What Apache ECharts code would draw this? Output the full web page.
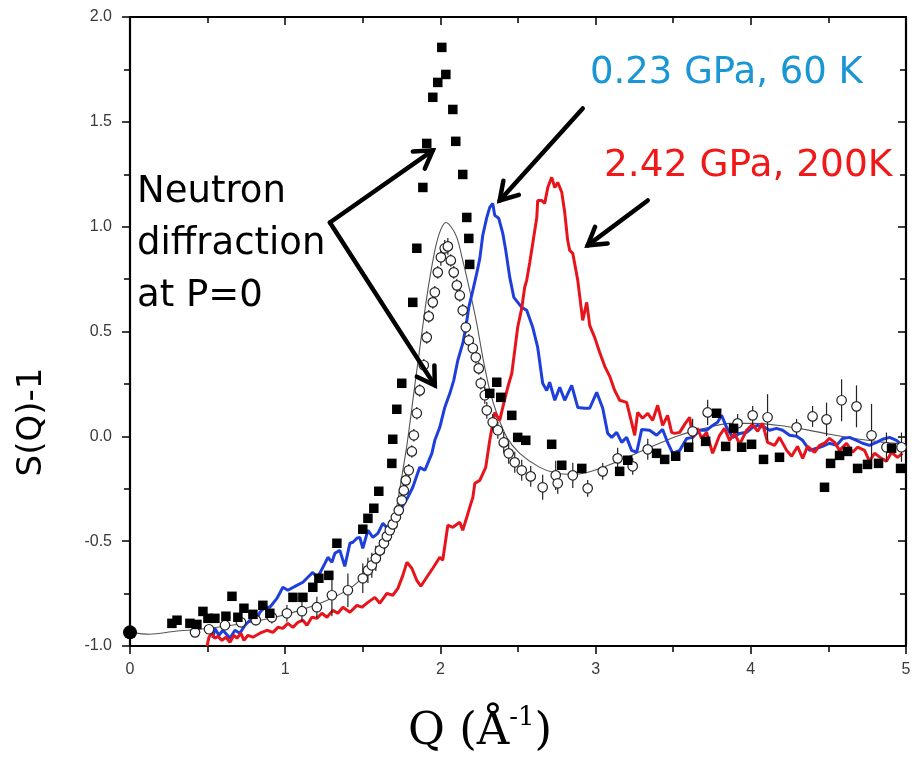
<!DOCTYPE html>
<html><head><meta charset="utf-8">
<script src="https://cdn.jsdelivr.net/npm/echarts@6.0.0/dist/echarts.min.js"></script>
<style>html,body{margin:0;padding:0;background:#fff}#c{width:924px;height:757px}</style>
</head><body><div id="c"></div>
<script>
// ---- data (Q in 1/Å, S(Q)-1) ----
const xRange = [0, 5];
const yRange = [-1, 2];
const yTickLabels = ['-1.0','-0.5','0.0','0.5','1.0','1.5','2.0'];

// filled squares (neutron diffraction, other data set)
const squares = [
[0.270,-0.892],[0.303,-0.877],[0.386,-0.892],[0.431,-0.897],[0.470,-0.835],[0.502,-0.868],[0.547,-0.868],
[0.618,-0.858],[0.657,-0.763],[0.695,-0.863],[0.734,-0.820],[0.792,-0.849],[0.856,-0.806],[0.901,-0.844],
[1.050,-0.768],[1.114,-0.768],[1.178,-0.720],[1.217,-0.677],[1.281,-0.663],[1.333,-0.510],[1.500,-0.443],
[1.533,-0.391],[1.571,-0.343],[1.603,-0.262],[1.687,-0.129],[1.693,-0.014],[1.719,0.129],[1.751,0.253],
[1.822,0.639],[1.848,0.897],[1.887,1.187],[1.912,1.397],[1.951,1.617],[1.983,1.688],[2.009,1.855],
[2.035,1.726],[2.080,1.559],[2.099,1.407],[2.144,1.249],[2.170,1.044],[2.183,0.944],[2.189,0.820],
[2.318,0.205],[2.363,0.258],[2.389,0.186],[2.460,0.100],[2.498,-0.005],[2.550,-0.019],[2.717,-0.038],
[2.782,-0.138],[2.911,-0.153],[3.155,-0.167],[3.207,-0.114],[3.393,-0.081],[3.445,-0.110],[3.516,-0.095],
[3.600,-0.052],[3.709,-0.024],[3.780,0.110],[3.838,-0.048],[3.889,0.038],[3.941,-0.052],[4.005,-0.038],
[4.082,-0.110],[4.185,-0.100],[4.475,-0.243],[4.514,-0.129],[4.572,-0.091],[4.623,-0.072],[4.688,-0.153],
[4.752,-0.134],[4.823,-0.129],[4.907,-0.057],[4.965,-0.153]
];

// open circles with error bars: [Q, S-1, error]
const circles = [
[0.419,-0.935,0.015],[0.509,-0.920,0.015],[0.612,-0.901,0.02],[0.715,-0.887,0.02],[0.811,-0.877,0.025],
[0.914,-0.863,0.03],[1.011,-0.844,0.04],[1.108,-0.834,0.05],[1.204,-0.815,0.05],[1.301,-0.758,0.10],
[1.404,-0.734,0.08],[1.500,-0.677,0.07],[1.533,-0.639,0.06],[1.558,-0.615,0.06],[1.584,-0.582,0.06],
[1.610,-0.544,0.05],[1.636,-0.510,0.05],[1.655,-0.477,0.05],[1.674,-0.448,0.05],[1.693,-0.420,0.05],
[1.713,-0.386,0.04],[1.732,-0.353,0.04],[1.751,-0.305,0.04],[1.764,-0.258,0.04],[1.777,-0.210,0.03],
[1.796,-0.162,0.03],[1.816,-0.072,0.03],[1.829,0.005,0.03],[1.848,0.110,0.03],[1.867,0.219,0.03],
[1.893,0.339,0.03],[1.912,0.472,0.03],[1.925,0.572,0.03],[1.951,0.639,0.03],[1.964,0.687,0.03],
[1.983,0.782,0.03],[2.003,0.854,0.04],[2.028,0.897,0.04],[2.048,0.906,0.04],[2.067,0.839,0.03],
[2.086,0.782,0.03],[2.106,0.720,0.03],[2.125,0.672,0.03],[2.144,0.601,0.03],[2.164,0.520,0.03],
[2.183,0.458,0.03],[2.209,0.420,0.03],[2.228,0.377,0.03],[2.247,0.324,0.03],[2.260,0.253,0.03],
[2.286,0.196,0.04],[2.299,0.124,0.04],[2.337,0.067,0.04],[2.370,0.029,0.04],[2.408,-0.029,0.05],
[2.440,-0.081,0.05],[2.479,-0.124,0.05],[2.524,-0.162,0.05],[2.582,-0.191,0.05],[2.659,-0.243,0.06],
[2.743,-0.186,0.07],[2.756,-0.224,0.05],[2.853,-0.186,0.06],[2.949,-0.248,0.04],[3.046,-0.167,0.04],
[3.142,-0.105,0.05],[3.239,-0.143,0.04],[3.336,-0.062,0.05],[3.625,0.024,0.06],[3.722,0.114,0.06],
[3.915,0.062,0.045],[4.012,0.100,0.045],[4.108,0.091,0.11],[4.295,0.043,0.04],[4.398,0.095,0.05],
[4.488,0.081,0.08],[4.585,0.172,0.10],[4.681,0.143,0.10],[4.778,0.005,0.15],[4.874,-0.052,0.07],
[4.971,-0.052,0.07]
];

// thin fit curve
const fit = [
[0,-0.935],[0.129,-0.944],[0.290,-0.930],[0.451,-0.920],[0.612,-0.906],[0.773,-0.887],[0.934,-0.863],
[1.095,-0.830],[1.256,-0.787],[1.417,-0.725],[1.513,-0.663],[1.590,-0.591],[1.655,-0.520],[1.693,-0.424],
[1.726,-0.305],[1.758,-0.162],[1.784,-0.043],[1.810,0.100],[1.835,0.243],[1.861,0.386],[1.887,0.529],
[1.912,0.663],[1.938,0.782],[1.970,0.906],[2.003,0.987],[2.035,1.020],[2.067,1.001],[2.106,0.949],
[2.144,0.839],[2.189,0.696],[2.234,0.539],[2.273,0.377],[2.318,0.219],[2.363,0.110],[2.428,-0.005],
[2.511,-0.081],[2.640,-0.148],[2.750,-0.176],[2.865,-0.181],[2.994,-0.162],[3.220,-0.095],[3.381,-0.043],
[3.542,0.005],[3.703,0.038],[3.863,0.062],[4.025,0.062],[4.185,0.052],[4.346,0.033],[4.507,0.010],
[4.701,-0.014],[4.862,-0.029],[5.000,-0.038]
];

// 0.23 GPa, 60 K
const blue = [
[0.534,-0.963],[0.547,-0.916],[0.573,-0.949],[0.599,-0.925],[0.644,-0.963],[0.676,-0.925],[0.708,-0.939],
[0.741,-0.901],[0.773,-0.877],[0.805,-0.892],[0.837,-0.839],[0.869,-0.815],[0.901,-0.815],[0.947,-0.773],
[0.985,-0.720],[1.017,-0.734],[1.075,-0.711],[1.114,-0.696],[1.146,-0.672],[1.178,-0.649],[1.204,-0.672],
[1.223,-0.653],[1.256,-0.606],[1.275,-0.577],[1.301,-0.601],[1.320,-0.558],[1.352,-0.544],[1.384,-0.620],
[1.417,-0.510],[1.436,-0.505],[1.462,-0.486],[1.481,-0.482],[1.500,-0.534],[1.533,-0.448],[1.565,-0.482],
[1.597,-0.463],[1.629,-0.415],[1.661,-0.439],[1.693,-0.401],[1.739,-0.353],[1.771,-0.315],[1.790,-0.291],
[1.822,-0.243],[1.867,-0.148],[1.900,-0.162],[1.945,-0.081],[1.964,-0.019],[1.996,0.043],[2.028,0.138],
[2.061,0.205],[2.086,0.267],[2.112,0.362],[2.144,0.443],[2.164,0.520],[2.183,0.615],[2.209,0.696],
[2.234,0.777],[2.254,0.849],[2.273,0.959],[2.299,1.044],[2.318,1.092],[2.337,1.111],[2.350,1.054],
[2.376,1.040],[2.402,0.968],[2.421,0.887],[2.447,0.758],[2.473,0.663],[2.524,0.615],[2.556,0.601],
[2.595,0.520],[2.627,0.424],[2.659,0.253],[2.685,0.219],[2.704,0.258],[2.737,0.172],[2.769,0.234],
[2.801,0.172],[2.846,0.243],[2.885,0.138],[2.930,0.134],[2.962,0.134],[3.007,0.210],[3.046,0.134],
[3.078,0.014],[3.104,-0.005],[3.136,0.019],[3.168,-0.029],[3.200,-0.005],[3.232,-0.067],[3.265,-0.076],
[3.297,0.033],[3.348,0.029],[3.393,0.005],[3.432,0.033],[3.464,-0.029],[3.497,-0.081],[3.542,-0.067],
[3.587,-0.010],[3.625,-0.005],[3.670,0.029],[3.715,0.029],[3.754,0.052],[3.786,0.067],[3.812,0.100],
[3.844,0.043],[3.883,-0.005],[3.928,0.014],[3.973,0.019],[4.012,0.043],[4.044,0.052],[4.089,0.043],
[4.121,0.029],[4.166,0.038],[4.205,0.029],[4.250,0.005],[4.295,0.000],[4.334,-0.019],[4.379,-0.067],
[4.424,-0.057],[4.462,-0.048],[4.507,-0.033],[4.553,-0.043],[4.591,-0.010],[4.636,-0.005],[4.681,-0.019],
[4.720,-0.033],[4.765,-0.043],[4.810,-0.029],[4.849,-0.014],[4.894,-0.005],[4.939,-0.019],[4.977,-0.043],
[5.000,-0.052]
];

// 2.42 GPa, 200K
const red = [
[0.496,-1.001],[0.509,-0.958],[0.528,-0.939],[0.547,-0.963],[0.567,-0.954],[0.592,-0.973],[0.618,-0.958],
[0.644,-0.982],[0.670,-0.949],[0.689,-0.963],[0.715,-0.939],[0.734,-0.973],[0.760,-0.949],[0.792,-0.958],
[0.837,-0.939],[0.882,-0.925],[0.921,-0.935],[0.953,-0.911],[0.985,-0.916],[1.017,-0.892],[1.050,-0.911],
[1.082,-0.887],[1.114,-0.877],[1.140,-0.901],[1.172,-0.863],[1.204,-0.868],[1.236,-0.844],[1.269,-0.863],
[1.307,-0.830],[1.339,-0.844],[1.372,-0.815],[1.417,-0.839],[1.462,-0.806],[1.494,-0.815],[1.533,-0.792],
[1.578,-0.768],[1.610,-0.796],[1.655,-0.749],[1.693,-0.758],[1.726,-0.725],[1.758,-0.663],[1.784,-0.601],
[1.816,-0.629],[1.848,-0.687],[1.874,-0.715],[1.912,-0.672],[1.951,-0.629],[1.996,-0.577],[2.015,-0.591],
[2.048,-0.424],[2.080,-0.434],[2.125,-0.410],[2.144,-0.448],[2.170,-0.386],[2.189,-0.339],[2.209,-0.291],
[2.222,-0.224],[2.254,-0.210],[2.292,-0.148],[2.318,-0.019],[2.350,0.114],[2.382,0.076],[2.408,0.157],
[2.434,0.234],[2.460,0.300],[2.479,0.410],[2.498,0.520],[2.524,0.610],[2.543,0.711],[2.556,0.744],
[2.576,0.830],[2.595,0.920],[2.621,1.044],[2.627,1.125],[2.653,1.125],[2.672,1.111],[2.692,1.187],
[2.717,1.235],[2.737,1.187],[2.756,1.211],[2.782,1.164],[2.801,1.068],[2.820,0.935],[2.833,0.887],
[2.853,0.873],[2.885,0.744],[2.917,0.553],[2.943,0.639],[2.962,0.529],[2.994,0.472],[3.026,0.401],
[3.059,0.334],[3.091,0.286],[3.123,0.219],[3.155,0.172],[3.200,0.162],[3.232,0.067],[3.252,0.005],
[3.271,0.114],[3.303,0.086],[3.336,0.110],[3.368,0.076],[3.400,0.148],[3.432,0.052],[3.464,0.100],
[3.490,0.019],[3.509,0.014],[3.542,0.019],[3.574,0.057],[3.606,0.091],[3.625,-0.005],[3.657,0.038],
[3.683,-0.010],[3.715,0.019],[3.754,-0.081],[3.799,0.005],[3.831,0.038],[3.863,-0.019],[3.896,0.014],
[3.928,-0.038],[3.973,0.029],[4.012,0.057],[4.044,0.024],[4.076,0.062],[4.108,-0.029],[4.153,-0.043],
[4.185,-0.005],[4.231,-0.067],[4.263,-0.095],[4.301,-0.048],[4.334,-0.105],[4.366,-0.048],[4.411,-0.076],
[4.443,-0.043],[4.475,-0.033],[4.507,-0.010],[4.540,-0.029],[4.572,-0.067],[4.617,-0.033],[4.656,-0.076],
[4.688,-0.052],[4.733,-0.067],[4.765,-0.119],[4.797,-0.081],[4.842,-0.105],[4.874,-0.119],[4.907,-0.076],
[4.945,-0.100],[4.977,-0.081]
];

// single large dot at Q=0
const originDot = [[0.0, -0.935]];

// annotation arrows in data coordinates: [from, to]
const arrowsData = [
  [[1.288,1.020],[1.951,1.364]],
  [[1.288,1.020],[1.964,0.243]],
  [[2.917,1.564],[2.382,1.125]],
  [[3.336,1.125],[2.949,0.911]]
];

const chart = echarts.init(document.getElementById('c'));
const axisLineStyle = {color:'#000', width:2.2};
const labelStyle = {color:'#3a3a3a', fontSize:16, fontFamily:'Liberation Sans, Arial, sans-serif'};

chart.setOption({
  animation:false,
  backgroundColor:'#fff',
  grid:{left:130, right:18, top:17, bottom:111, containLabel:false},
  xAxis:[
    {type:'value', min:xRange[0], max:xRange[1], interval:1, position:'bottom',
     axisLine:{show:true, onZero:false, lineStyle:axisLineStyle},
     axisTick:{show:true, inside:false, length:8, lineStyle:{color:'#000', width:1.5}},
     minorTick:{show:true, splitNumber:2, length:6, lineStyle:{color:'#000', width:1.5}},
     axisLabel:Object.assign({margin:16, formatter:v=>String(v)}, labelStyle),
     splitLine:{show:false}},
    {type:'value', min:xRange[0], max:xRange[1], interval:1, position:'top',
     axisLine:{show:true, onZero:false, lineStyle:axisLineStyle},
     axisTick:{show:true, inside:true, length:8, lineStyle:{color:'#000', width:1.5}},
     minorTick:{show:true, splitNumber:2, length:6, lineStyle:{color:'#000', width:1.5}},
     axisLabel:{show:false}, splitLine:{show:false}}
  ],
  yAxis:[
    {type:'value', min:yRange[0], max:yRange[1], interval:0.5, position:'left',
     axisLine:{show:true, onZero:false, lineStyle:axisLineStyle},
     axisTick:{show:true, inside:false, length:8, lineStyle:{color:'#000', width:1.5}},
     minorTick:{show:true, splitNumber:2, length:6, lineStyle:{color:'#000', width:1.5}},
     axisLabel:Object.assign({margin:18, formatter:v=>yTickLabels[Math.round((v-yRange[0])/0.5)]}, labelStyle),
     splitLine:{show:false}},
    {type:'value', min:yRange[0], max:yRange[1], interval:0.5, position:'right',
     axisLine:{show:true, onZero:false, lineStyle:axisLineStyle},
     axisTick:{show:true, inside:true, length:8, lineStyle:{color:'#000', width:1.5}},
     minorTick:{show:true, splitNumber:2, length:6, lineStyle:{color:'#000', width:1.5}},
     axisLabel:{show:false}, splitLine:{show:false}}
  ],
  series:[
    {type:'line', data:fit, smooth:0.3, symbol:'none', lineStyle:{color:'#555', width:1.1}, z:2},
    {type:'line', data:blue, symbol:'none', lineStyle:{color:'#1f3fdc', width:3}, z:3},
    {type:'line', data:red, symbol:'none', lineStyle:{color:'#e8141c', width:3}, z:4},
    {type:'custom', data:circles, z:5,
     renderItem:function(params, api){
       const x=api.value(0), y=api.value(1), e=api.value(2);
       const p1=api.coord([x,y-e]), p2=api.coord([x,y+e]);
       return {type:'line', shape:{x1:p1[0],y1:p1[1],x2:p2[0],y2:p2[1]}, style:{stroke:'#222', lineWidth:1.2}};
     }},
    {type:'scatter', data:circles.map(c=>[c[0],c[1]]), symbol:'circle', symbolSize:9.5,
     itemStyle:{color:'#fff', borderColor:'#222', borderWidth:1.2, opacity:1}, z:6},
    {type:'scatter', data:squares, symbol:'rect', symbolSize:9.5, itemStyle:{color:'#000', opacity:1}, z:7},
    {type:'scatter', data:originDot, symbol:'circle', symbolSize:14, itemStyle:{color:'#000', opacity:1}, clip:false, z:8}
  ]
});

function arrowGraphic(from, to){
  const a = chart.convertToPixel({gridIndex:0}, from);
  const b = chart.convertToPixel({gridIndex:0}, to);
  const ang = Math.atan2(b[1]-a[1], b[0]-a[0]);
  const L = 20, sp = 0.55;
  const h1 = [b[0]-L*Math.cos(ang-sp), b[1]-L*Math.sin(ang-sp)];
  const h2 = [b[0]-L*Math.cos(ang+sp), b[1]-L*Math.sin(ang+sp)];
  return [
    {type:'line', shape:{x1:a[0],y1:a[1],x2:b[0],y2:b[1]}, style:{stroke:'#000', lineWidth:4.5, lineCap:'round'}, z:100},
    {type:'polyline', shape:{points:[h1,b,h2]}, style:{stroke:'#000', lineWidth:4.5, fill:null, lineCap:'round', lineJoin:'miter'}, z:100}
  ];
}

const g = [];
arrowsData.forEach(ad => g.push(...arrowGraphic(ad[0], ad[1])));
const sansFont = 'DejaVu Sans, Verdana, sans-serif';
g.push(
  {type:'text', left:590, top:55, z:100, style:{text:'0.23 GPa, 60 K', fill:'#1b96d4', font:'37px '+sansFont}},
  {type:'text', left:604, top:147, z:100, style:{text:'2.42 GPa, 200K', fill:'#f01818', font:'37.5px '+sansFont}},
  {type:'text', left:137, top:166, z:100, style:{text:'Neutron\ndiffraction\nat P=0', fill:'#000', font:'37px '+sansFont, lineHeight:52}},
  {type:'text', x:32, y:422, rotation:Math.PI/2, z:100,
   style:{text:'S(Q)-1', fill:'#000', font:'34px '+sansFont, align:'center', verticalAlign:'middle'}},
  {type:'text', x:480, y:730, z:100,
   style:{text:'{a|Q (Å}{s|-1}{a|)}', align:'center', verticalAlign:'middle',
     rich:{a:{fontFamily:'DejaVu Serif, serif', fontSize:45, fill:'#000', lineHeight:50, verticalAlign:'bottom'},
           s:{fontFamily:'DejaVu Serif, serif', fontSize:26, fill:'#000', lineHeight:50, verticalAlign:'top'}}}}
);
chart.setOption({graphic:g});
</script>
</body></html>
